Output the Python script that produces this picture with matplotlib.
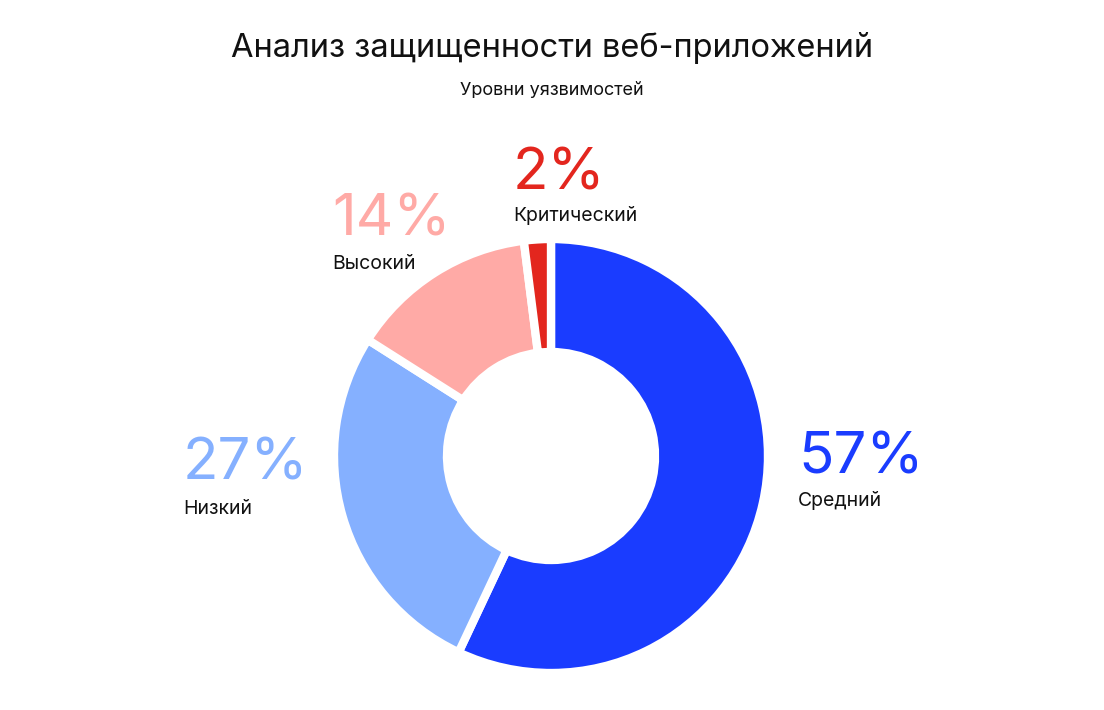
import matplotlib.pyplot as plt

plt.rcParams['font.family'] = ['Inter', 'DejaVu Sans']

# данные
labels = ['Средний', 'Низкий', 'Высокий', 'Критический']
values = [57, 27, 14, 2]
colors = ['#1a3cff', '#85b0ff', '#ffaaa6', '#e3261e']

# позиции подписей (пиксели, левый край / базовая линия процента / базовая линия названия)
label_pos = [(798, 474, 506), (183, 480, 514), (332, 235, 269), (513, 190, 221)]

W, H = 1104, 710
fig = plt.figure(figsize=(W / 100, H / 100), dpi=100)
ax = fig.add_axes([0, 0, 1, 1])
ax.set_xlim(0, W)
ax.set_ylim(0, H)
ax.set_aspect('equal')
ax.axis('off')

cx, cy, r = 551, H - 456, 217
ax.pie(values, colors=colors, startangle=90, counterclock=False,
       center=(cx, cy), radius=r,
       wedgeprops=dict(width=113, edgecolor='white', linewidth=6))
ax.set_xlim(0, W)
ax.set_ylim(0, H)

for lab, val, col, (x, yp, yl) in zip(labels, values, colors, label_pos):
    ax.text(x, H - yp, f'{val}%', color=col, fontsize=42, ha='left', va='baseline')
    ax.text(x, H - yl, lab, color='#111111', fontsize=14, ha='left', va='baseline')

ax.text(W / 2, H - 57, 'Анализ защищенности веб-приложений', fontsize=23.5,
        ha='center', va='baseline', color='#111111')
ax.text(W / 2, H - 95, 'Уровни уязвимостей', fontsize=13,
        ha='center', va='baseline', color='#111111')

fig.savefig('out.png', dpi=100, facecolor='white')
